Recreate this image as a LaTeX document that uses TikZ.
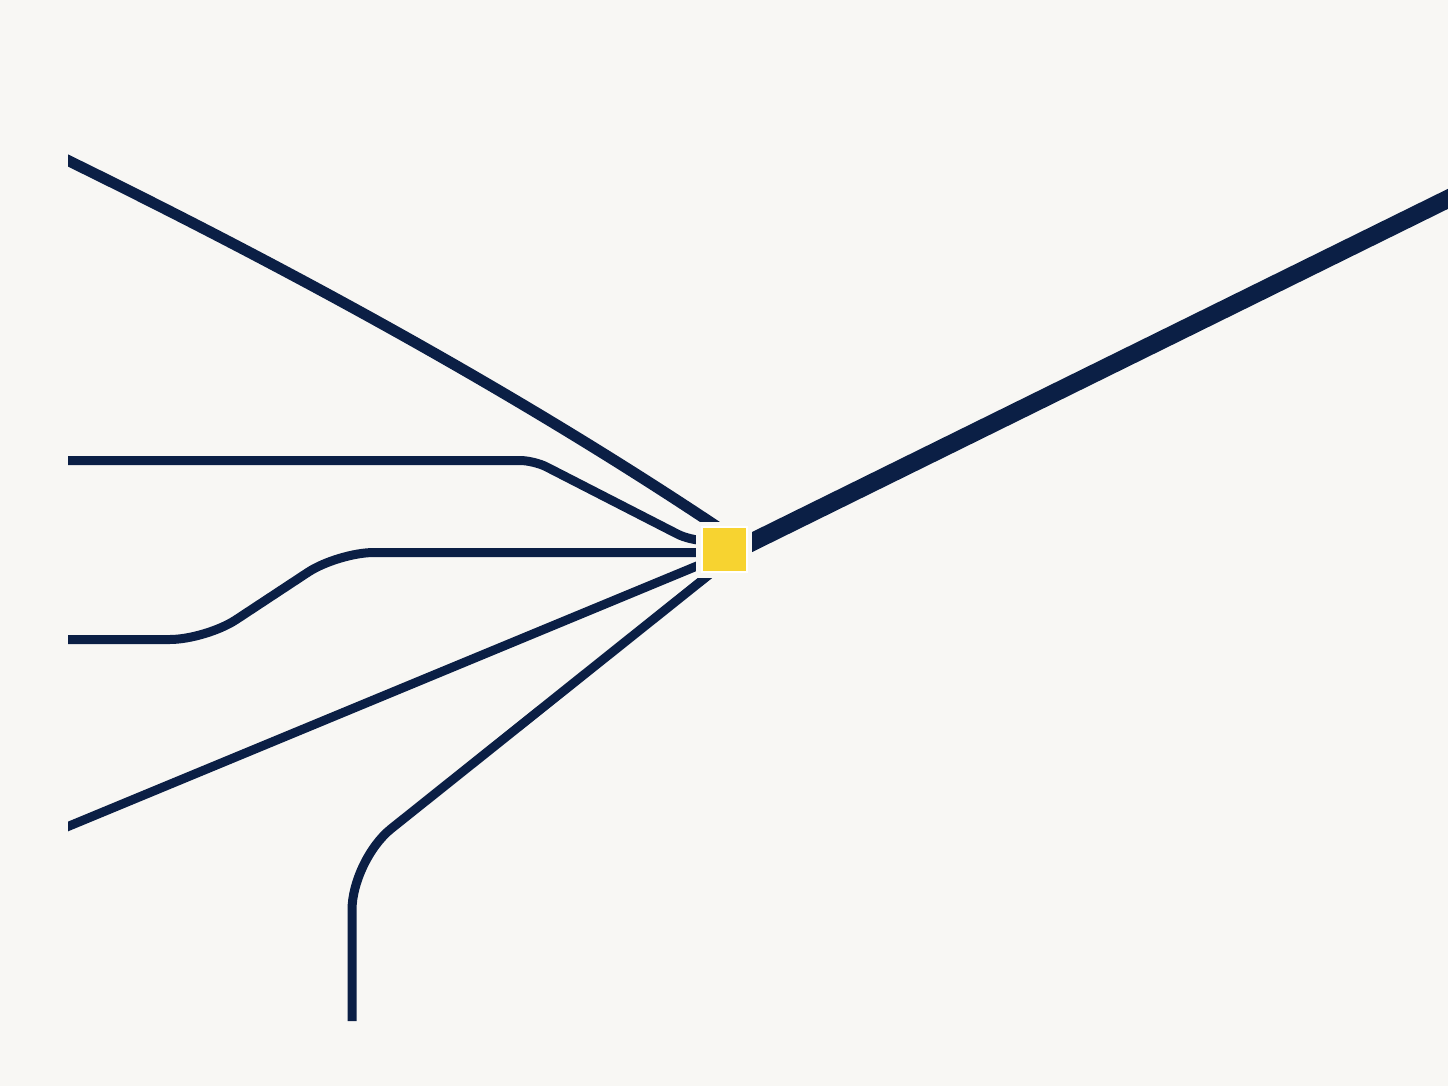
\documentclass[tikz,border=0pt]{standalone}
\definecolor{papier}{HTML}{F8F7F4}
\definecolor{marine}{HTML}{0B1F45}
\definecolor{gelb}{HTML}{F7D330}
\tikzset{
  linie/.style={draw=marine, line width=4.5pt},
  dicklinie/.style={draw=marine, line width=5.5pt},
  strahl/.style={draw=marine, line width=9pt},
}
\begin{document}
\begin{tikzpicture}[x=0.5pt,y=-0.5pt]
        % Hintergrund
        \fill[papier] (0,0) rectangle (1448,1086);
        \begin{scope}
        \clip (68,0) rectangle (1448,1086);
        % Linien links
        \draw[dicklinie] (60,156.6) -- (68,160.5) .. controls (322.3,285.1) and (540.3,408.3) .. (722,530);
        \draw[linie, rounded corners=7pt] (60,460.5) -- (534,460.5) -- (690,540.5) -- (712,540.5);
        \draw[linie, rounded corners=18pt] (60,639.5) -- (206,639.5) -- (338,552.5) -- (706,552.5);
        \draw[linie] (60,829.8) -- (710,560.6);
        \draw[linie, rounded corners=25pt] (352,1021) -- (352,860) -- (715,570);
        % Linie rechts
        \draw[strahl] (740,548) -- (1470,188);
        \end{scope}
        % Knoten
        \node[fill=papier, minimum size=28pt, inner sep=0pt] (rand) at (724,549.5) {};
        \node[fill=gelb, draw=white, line width=1pt, minimum size=22.5pt, inner sep=0pt] (knoten) at (724.5,549) {};
    \end{tikzpicture}
\end{document}
